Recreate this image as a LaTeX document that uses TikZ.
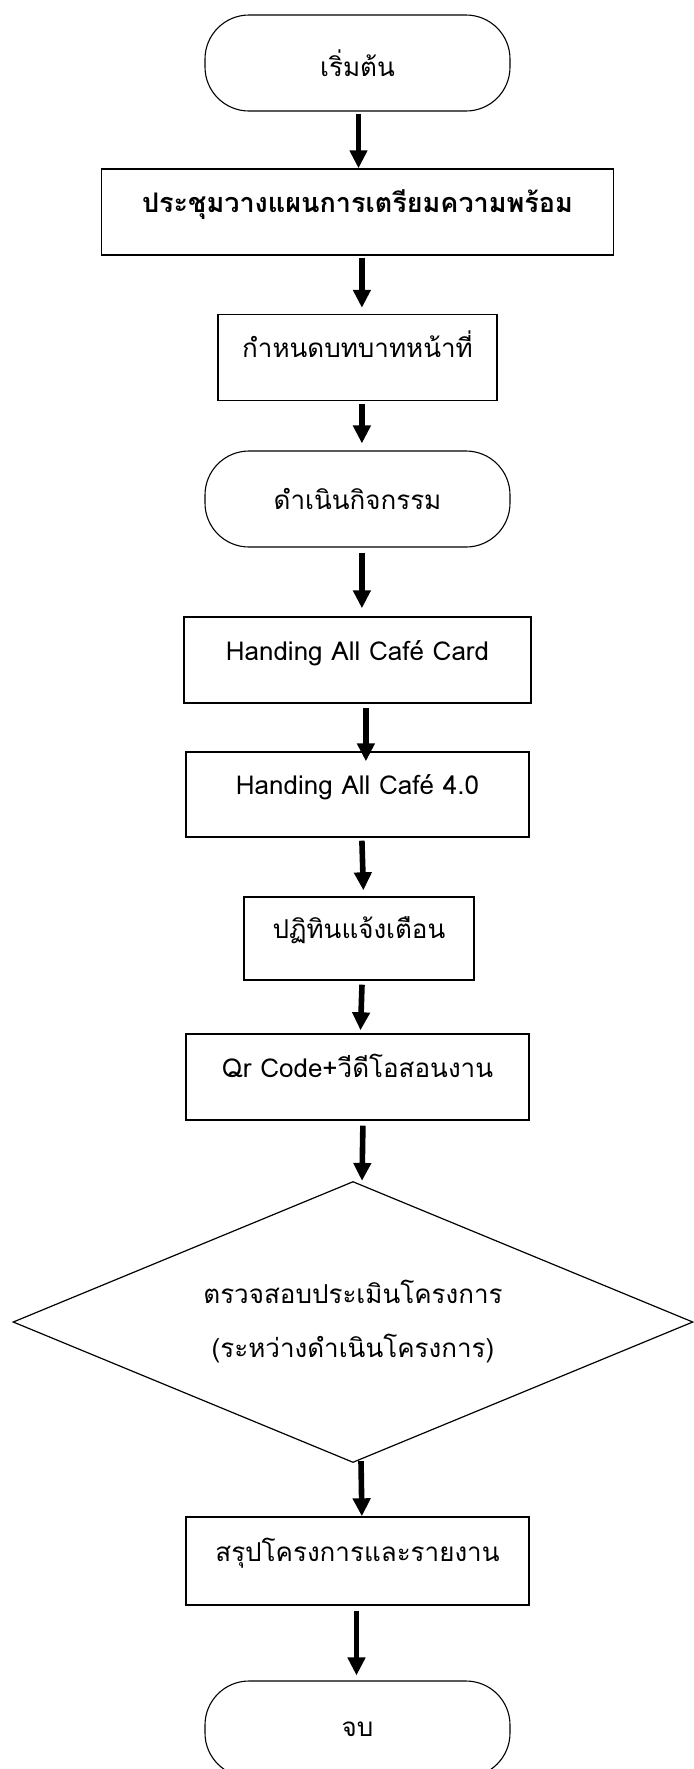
\documentclass[tikz,border=0pt]{standalone}
\usepackage{fontspec}
\setmainfont[Script=Thai]{Loma}
\usetikzlibrary{shapes.geometric,arrows.meta}
\begin{document}
\begin{tikzpicture}[x=0.5pt,y=-0.5pt,
  base/.style={draw=black,inner sep=0pt,font=\fontsize{13}{15.5}\selectfont,text=black},
  term/.style={base,line width=0.55pt,rectangle,rounded corners=22pt,minimum width=152.5pt,minimum height=48pt},
  procbox/.style={base,line width=0.7pt,rectangle,text height=7.5pt,text depth=7.5pt},
  decision/.style={base,line width=0.6pt,diamond,shape aspect=2.42,minimum width=340pt,minimum height=140.5pt,align=center},
  flow/.style={line width=2.8pt,-{Triangle[length=9pt,width=8.5pt]}}]
\useasboundingbox (0,0) rectangle (694,1769);
\node[term] (start) at (357.5,63) {เริ่มต้น};
\node[procbox,minimum width=256pt,minimum height=43pt,font=\fontsize{13.5}{15.5}\selectfont\bfseries] (plan) at (357.5,212) {ประชุมวางแผนการเตรียมความพร้อม};
\node[procbox,minimum width=139.5pt,minimum height=43pt] (role) at (357.5,357.5) {กำหนดบทบาทหน้าที่};
\node[term] (act) at (357.5,499) {ดำเนินกิจกรรม};
\node[procbox,minimum width=173.5pt,minimum height=43pt] (card) at (357.5,660) {Handing All Café Card};
\node[procbox,minimum width=171.5pt,minimum height=42.5pt] (cafe) at (357.5,794.5) {Handing All Café 4.0};
\node[procbox,minimum width=115pt,minimum height=41.5pt] (cal) at (359,938.5) {ปฏิทินแจ้งเตือน};
\node[procbox,minimum width=171.5pt,minimum height=43pt] (qr) at (357.5,1077) {Qr Code+วีดีโอสอนงาน};
\node[decision] (eval) at (353,1322) {ตรวจสอบประเมินโครงการ\\[11.5pt](ระหว่างดำเนินโครงการ)};
\node[procbox,minimum width=171.5pt,minimum height=44pt] (sum) at (357.5,1561) {สรุปโครงการและรายงาน};
\node[term] (end) at (357.5,1729) {จบ};
\draw[flow] ([xshift=0.5pt,yshift=-1pt]start.south) -- ([xshift=0.5pt]plan.north);
\draw[flow] ([xshift=2.2pt,yshift=-1pt]plan.south) -- ([xshift=2.2pt,yshift=3pt]role.north);
\draw[flow] ([xshift=2.2pt,yshift=-1.5pt]role.south) -- ([xshift=2.2pt,yshift=3.5pt]act.north);
\draw[flow] ([xshift=2.2pt,yshift=-2.5pt]act.south) -- ([xshift=2.2pt,yshift=4pt]card.north);
\draw[flow] ([xshift=4.2pt,yshift=-2pt]card.south) -- ([xshift=4.2pt,yshift=-5pt]cafe.north);
\draw[flow] ([xshift=2.2pt,yshift=-1.5pt]cafe.south) -- ([xshift=2.2pt,yshift=3pt]cal.north);
\draw[flow] ([xshift=1.5pt,yshift=-2pt]cal.south) -- ([xshift=1.5pt,yshift=1.5pt]qr.north);
\draw[flow] ([xshift=2.7pt,yshift=-2.5pt]qr.south) -- ([xshift=4.5pt,yshift=0pt]eval.north);
\draw[flow] ([xshift=4pt,yshift=1pt]eval.south) -- ([xshift=2.2pt]sum.north);
\draw[flow] ([xshift=-0.5pt,yshift=-2.5pt]sum.south) -- ([xshift=-0.5pt,yshift=2.5pt]end.north);
\end{tikzpicture}
\end{document}
